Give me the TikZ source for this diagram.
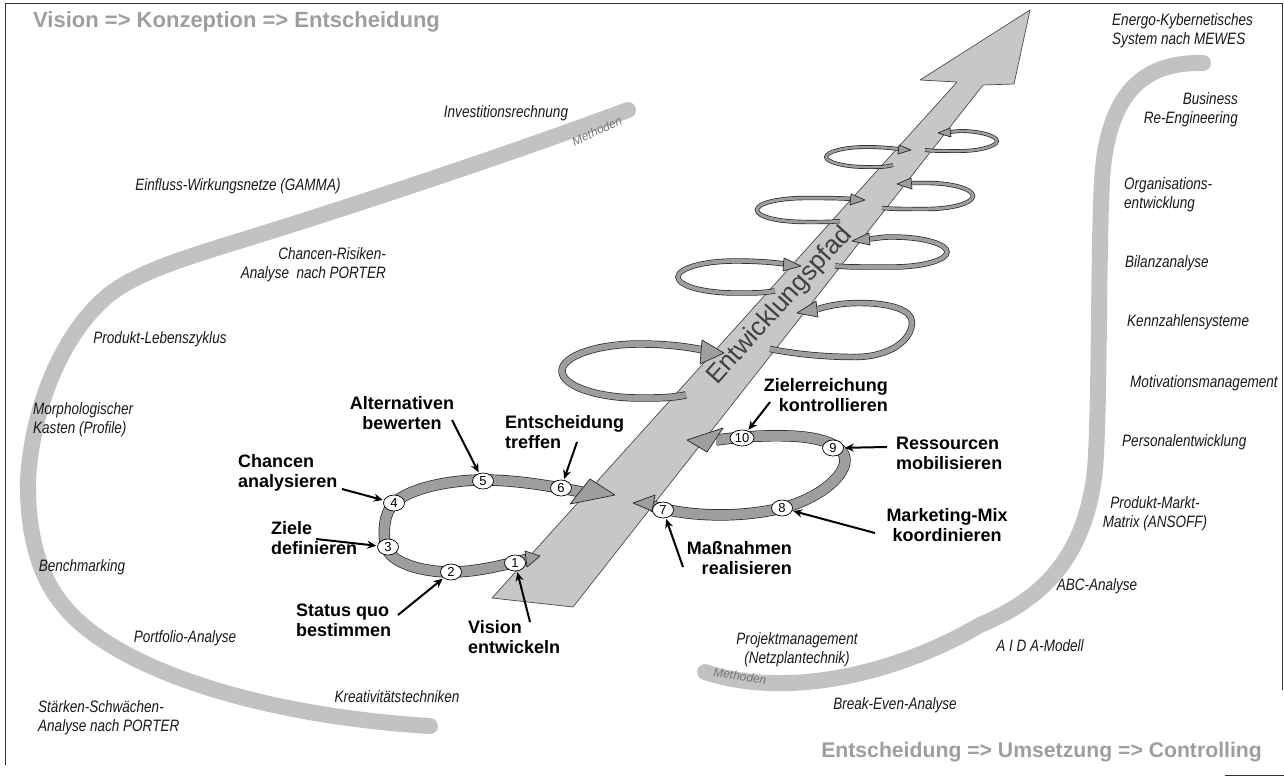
\documentclass[tikz,border=0pt]{standalone}
\usepackage{fontspec}
\setmainfont{Liberation Sans}
\newfontfamily\narrowfont{Liberation Sans}[FakeStretch=0.82]
\usetikzlibrary{arrows.meta,shapes.geometric}
\begin{document}
\begin{tikzpicture}[x=1pt,y=-1pt,
  meth/.style={font=\narrowfont\itshape\fontsize{16.5}{19}\selectfont, inner sep=0pt, text=black!90},
  bl/.style={font=\bfseries\fontsize{18}{20}\selectfont, inner sep=0pt},
  ttl/.style={font=\bfseries\fontsize{22}{26}\selectfont, text=black!38, inner sep=0pt},
  num/.style={ellipse, draw=black, fill=white, line width=0.7pt, minimum width=21pt, minimum height=16pt, inner sep=0pt, font=\fontsize{13}{13}\selectfont},
  pointer/.style={draw=black, line width=2pt, -{Stealth[length=9pt,width=8pt]}, shorten >=1pt},
  mband/.style={draw=black!24, line width=16pt, line cap=round},
  ribbon/.style={draw=black!85, line width=0.7pt, double=black!38, double distance=#1},
  head/.style={fill=black!38, draw=black!85, line width=0.7pt, line join=round},
  frame/.style={draw=black!80, line width=0.8pt},
  mlab/.style={font=\itshape\fontsize{12}{12}\selectfont, text=black!55, inner sep=0pt}
]
\useasboundingbox (0,0) rectangle (1284,777);
% frame
\draw[frame] (5,3) -- (1282,3);
\draw[frame] (5,3) -- (5,765);
\draw[frame] (1282,3) -- (1282,690);
\draw[frame] (1225,775) -- (1284,775);

% titles
\node[ttl, anchor=west] (t1) at (33,22) {Vision => Konzeption => Entscheidung};
\node[ttl, anchor=east, font=\bfseries\fontsize{21.2}{25}\selectfont] (t2) at (1262,752) {Entscheidung => Umsetzung => Controlling};

% method bands
\draw[mband] (628,110) .. controls (520,150) and (400,190) .. (300,222)
  .. controls (200,254) and (140,268) .. (105,298)
  .. controls (60,338) and (32,410) .. (28,480)
  .. controls (27,540) and (42,580) .. (63,605)
  .. controls (110,665) and (250,715) .. (430,726);
\node[mlab, rotate=25] (m1) at (597,131) {Methoden};
\draw[mband] (1203,63) .. controls (1150,62) and (1108,85) .. (1102,180)
  .. controls (1098,260) and (1100,400) .. (1095,470)
  .. controls (1085,560) and (1040,600) .. (980,625)
  .. controls (900,672) and (790,700) .. (705,672);
\node[mlab, rotate=-8] (m2) at (740,676) {Methoden};

% big perspective arrow
\filldraw[fill=black!22, draw=black!70, line width=0.7pt, line join=round]
  (492,598) -- (573,607) -- (983,85) -- (1014,84) -- (1030,10) -- (920,80) -- (957,82) -- cycle;
\node[font=\fontsize{26}{26}\selectfont, text=black!75, rotate=48, inner sep=0pt] (pfad) at (780,306) {Entwicklungspfad};

% upper loops, left side
\draw[ribbon=6pt] (686,395) .. controls (670,398) and (660,398) .. (640,398)
  .. controls (597,398) and (562,386) .. (562,371)
  .. controls (562,356) and (597,344) .. (640,344)
  .. controls (668,344) and (688,347) .. (703,350);
\filldraw[head] (724,353) -- (702,340) -- (700,364) -- cycle;
\draw[ribbon=4pt] (775,291) .. controls (760,293) .. (735,293)
  .. controls (704,293) and (678,286) .. (678,277)
  .. controls (678,268) and (704,261) .. (735,261)
  .. controls (755,261) and (770,262) .. (785,264);
\filldraw[head] (801,266) -- (784,258) -- (783,271) -- cycle;
\draw[ribbon=3pt] (840,221) .. controls (830,222) .. (806,222)
  .. controls (779,222) and (757,217) .. (757,210)
  .. controls (757,203) and (779,198) .. (806,198)
  .. controls (825,198) and (840,198) .. (851,199);
\filldraw[head] (865,200) -- (851,194) -- (850,205) -- cycle;
\draw[ribbon=2.5pt] (893,165) .. controls (885,167) .. (866,167)
  .. controls (844,167) and (826,162) .. (826,157)
  .. controls (826,152) and (844,147) .. (866,147)
  .. controls (880,147) and (890,148) .. (899,149);
\filldraw[head] (911,150) -- (899,145) -- (898,154) -- cycle;
% upper loops, right side
\draw[ribbon=2.5pt] (925,150) .. controls (935,151) .. (960,151)
  .. controls (980,151) and (997,146) .. (997,141)
  .. controls (997,136) and (980,131) .. (960,131)
  .. controls (955,131) .. (950,132);
\filldraw[head] (938,133) -- (950,128) -- (951,137) -- cycle;
\draw[ribbon=3pt] (882,208) .. controls (895,209) .. (927,209)
  .. controls (952,209) and (973,203) .. (973,196)
  .. controls (973,189) and (952,183) .. (927,183)
  .. controls (920,183) .. (912,183);
\filldraw[head] (897,184) -- (911,178) -- (912,189) -- cycle;
\draw[ribbon=4pt] (835,266) .. controls (850,267) .. (893,267)
  .. controls (923,267) and (947,260) .. (947,252)
  .. controls (947,244) and (923,237) .. (893,237)
  .. controls (885,237) .. (870,239);
\filldraw[head] (852,241) -- (869,233) -- (870,245) -- cycle;
\draw[ribbon=5pt] (770,349) .. controls (800,355) and (830,357) .. (855,357)
  .. controls (890,357) and (912,340) .. (912,322)
  .. controls (912,310) and (890,303) .. (860,303)
  .. controls (840,303) and (828,306) .. (818,309);
\filldraw[head] (797,313) -- (816,301) -- (818,317) -- cycle;

% lower ring 1 (steps 1-6)
\draw[ribbon=10pt] (528,559) .. controls (500,566) and (475,572) .. (451,572)
  .. controls (420,572) and (390,562) .. (386,547)
  .. controls (382,530) and (385,512) .. (394,503)
  .. controls (410,488) and (450,480) .. (483,480)
  .. controls (515,480) and (545,485) .. (582,492);
\filldraw[head] (615,495) -- (590,479) -- (570,504) -- cycle;
\filldraw[head] (540,556) -- (525,551) -- (527,567) -- cycle;
% lower ring 2 (steps 7-10)
\draw[ribbon=10pt] (652,506) .. controls (690,517) and (740,518) .. (782,508)
  .. controls (815,500) and (845,478) .. (845,460)
  .. controls (845,445) and (820,437) .. (790,436)
  .. controls (765,435) and (740,437) .. (716,440);
\filldraw[head] (687,440) -- (723,428) -- (707,452) -- cycle;
\filldraw[head] (633,503) -- (655,495) -- (652,511) -- cycle;

% step circles
\node[num] (c1) at (515,563) {1};
\node[num] (c2) at (451,572) {2};
\node[num] (c3) at (388,547) {3};
\node[num] (c4) at (394,503) {4};
\node[num] (c5) at (483,481) {5};
\node[num] (c6) at (561,488) {6};
\node[num] (c7) at (663,510) {7};
\node[num] (c8) at (782,508) {8};
\node[num] (c9) at (833,448) {9};
\node[num, minimum width=24pt] (c10) at (742,438) {10};

% step labels
\node[bl, align=center] (lalt) at (402,413) {Alternativen\\bewerten};
\node[bl, align=left, anchor=west] (lent) at (505,432) {Entscheidung\\treffen};
\node[bl, align=left, anchor=west] (lcha) at (238,473) {Chancen\\analysieren};
\node[bl, align=left, anchor=west] (lzie) at (271,538) {Ziele\\definieren};
\node[bl, align=left, anchor=west] (lsta) at (296,620) {Status quo\\bestimmen};
\node[bl, align=left, anchor=west] (lvis) at (468,637) {Vision\\entwickeln};
\node[bl, align=right, anchor=east] (lzer) at (888,395) {Zielerreichung\\kontrollieren};
\node[bl, align=left, anchor=west] (lres) at (896,453) {Ressourcen\\mobilisieren};
\node[bl, align=center] (lmar) at (947,525) {Marketing-Mix\\koordinieren};
\node[bl, align=right, anchor=east] (lmas) at (792,558) {Maßnahmen\\realisieren};

% pointer start points
\coordinate (pzer) at (770,402);
\coordinate (pres) at (887,447);
\coordinate (pmar) at (875,533);
\coordinate (pmas) at (683,567);
\coordinate (palt) at (452,420);
\coordinate (pent) at (577,442);
\coordinate (pcha) at (342,489);
\coordinate (pzie) at (316,539);
\coordinate (psta) at (398,615);
\coordinate (pvis) at (530,622);
\draw[pointer] (pzer) -- (c10);
\draw[pointer] (pres) -- (c9);
\draw[pointer] (pmar) -- (c8);
\draw[pointer] (pmas) -- (c7);
\draw[pointer] (palt) -- (c5);
\draw[pointer] (pent) -- (c6);
\draw[pointer] (pcha) -- (c4);
\draw[pointer] (pzie) -- (c3);
\draw[pointer] (psta) -- (c2);
\draw[pointer] (pvis) -- (c1);

% method labels, left
\node[meth] (inv) at (506,113) {Investitionsrechnung};
\node[meth] (ein) at (238,186) {Einfluss-Wirkungsnetze (GAMMA)};
\node[meth, align=right, anchor=east] (cha) at (386,265) {Chancen-Risiken-\\Analyse\ \ nach PORTER};
\node[meth] (pro) at (160,339) {Produkt-Lebenszyklus};
\node[meth, align=left, anchor=west] (mor) at (33,420) {Morphologischer\\Kasten (Profile)};
\node[meth] (ben) at (82,567) {Benchmarking};
\node[meth] (por) at (185,638) {Portfolio-Analyse};
\node[meth, align=left, anchor=west] (sta) at (38,718) {Stärken-Schwächen-\\Analyse nach PORTER};
\node[meth] (kre) at (397,697) {Kreativitätstechniken};
% method labels, right
\node[meth, align=left, anchor=west] (ene) at (1112,31) {Energo-Kybernetisches\\System nach MEWES};
\node[meth, align=right, anchor=east] (bus) at (1238,110) {Business\\Re-Engineering};
\node[meth, align=left, anchor=west] (org) at (1124,195) {Organisations-\\entwicklung};
\node[meth, anchor=west] (bil) at (1125,263) {Bilanzanalyse};
\node[meth, anchor=west] (ken) at (1127,322) {Kennzahlensysteme};
\node[meth, anchor=west] (mot) at (1130,383) {Motivationsmanagement};
\node[meth, anchor=west] (per) at (1122,442) {Personalentwicklung};
\node[meth, align=center] (pmm) at (1155,514) {Produkt-Markt-\\Matrix (ANSOFF)};
\node[meth] (abc) at (1097,586) {ABC-Analyse};
\node[meth] (aid) at (1040,646) {A I D A-Modell};
\node[meth, align=center] (prj) at (797,650) {Projektmanagement\\(Netzplantechnik)};
\node[meth] (bre) at (895,705) {Break-Even-Analyse};
\end{tikzpicture}
\end{document}
